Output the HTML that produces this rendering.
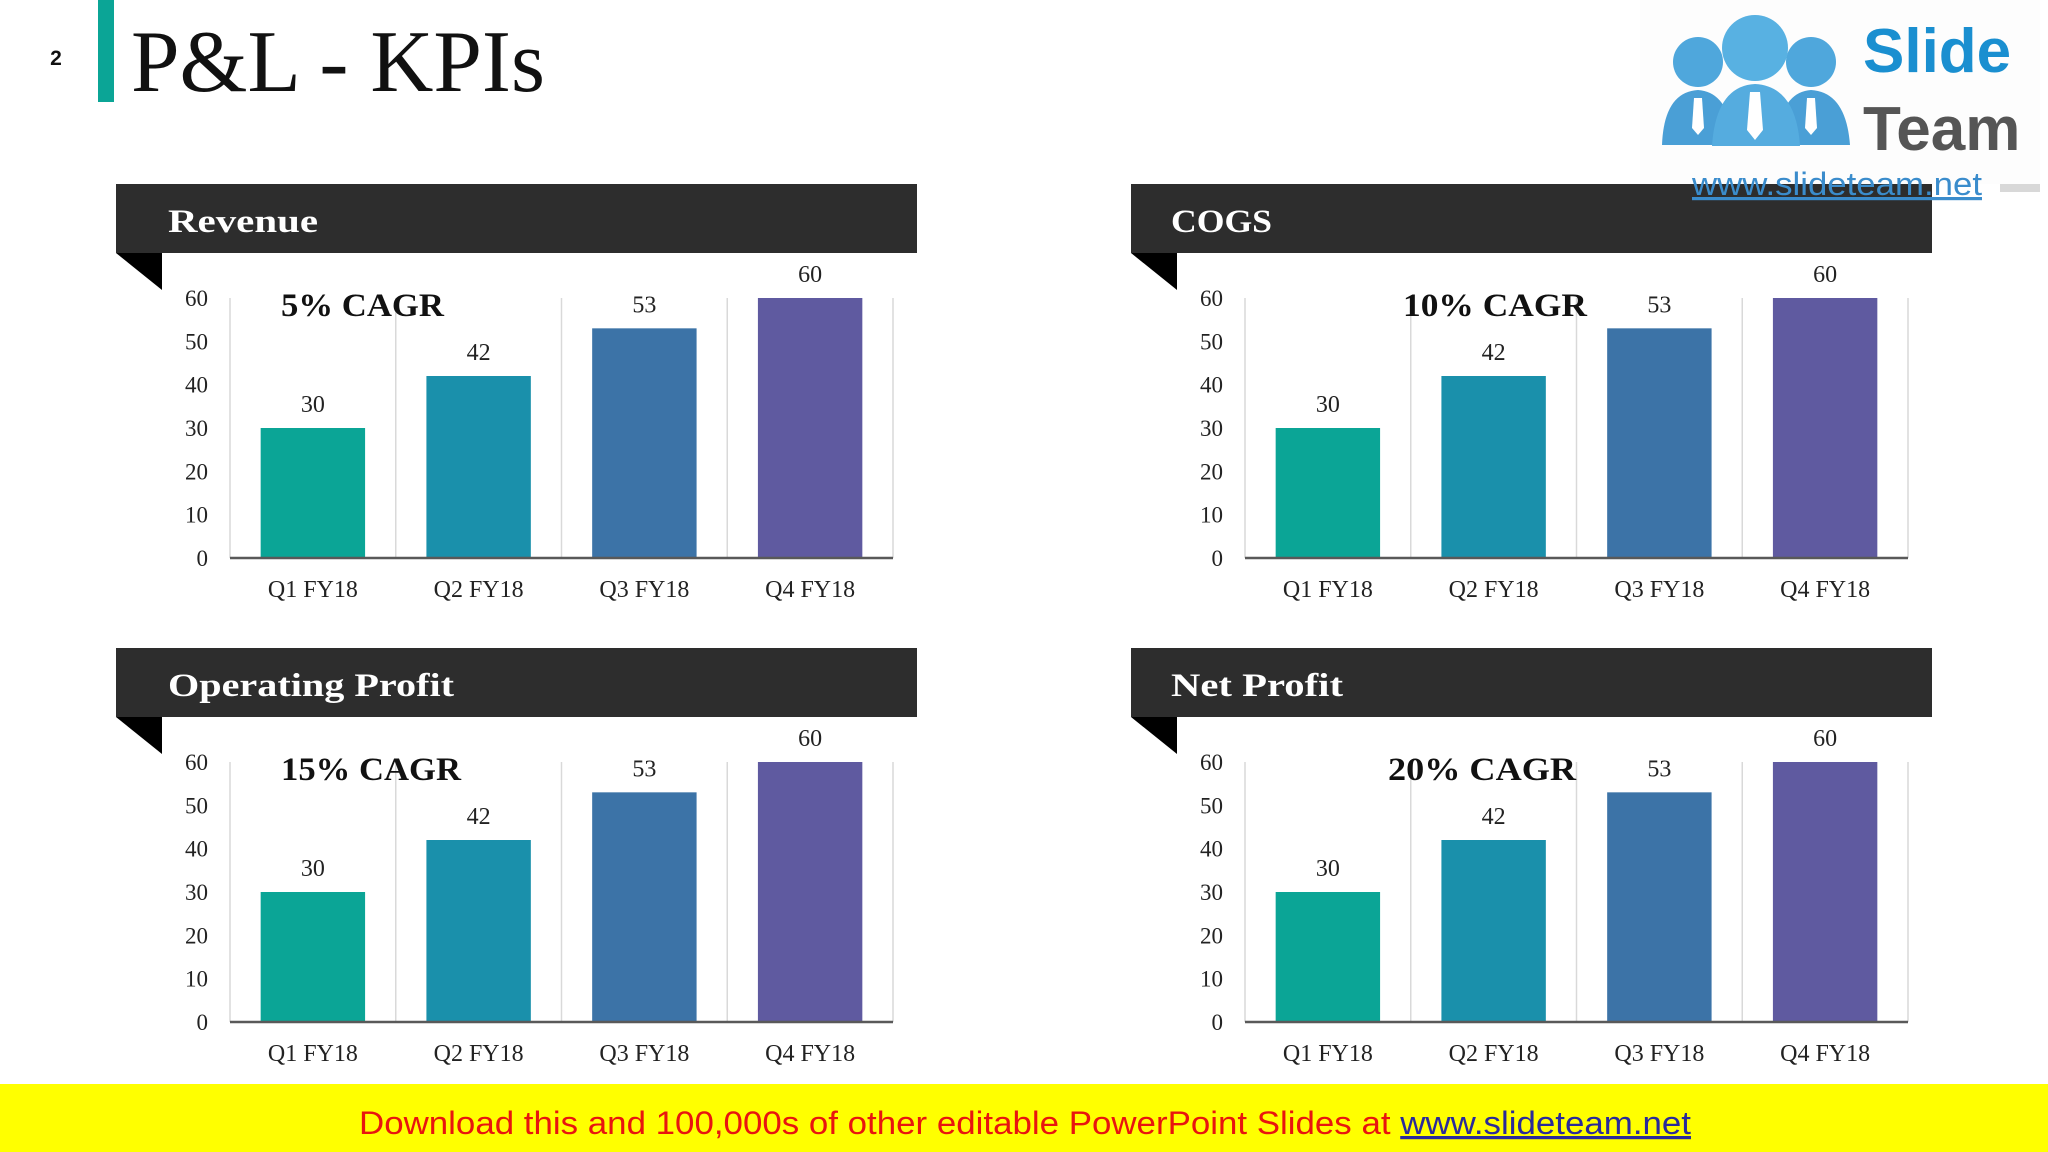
<!DOCTYPE html>
<html>
<head>
<meta charset="utf-8">
<style>
  html,body{margin:0;padding:0;background:#fff;}
  svg{display:block;}
  .serif{font-family:"Liberation Serif","DejaVu Serif",serif;}
  .sans{font-family:"Liberation Sans","DejaVu Sans",sans-serif;}
</style>
</head>
<body>
<svg id="slide" width="2048" height="1152" viewBox="0 0 2048 1152" xmlns="http://www.w3.org/2000/svg">
  <rect x="0" y="0" width="2048" height="1152" fill="#ffffff"/>
  <text x="56" y="65" class="sans" font-size="21" font-weight="bold" text-anchor="middle" fill="#111">2</text>
  <rect x="98" y="0" width="16" height="102" fill="#0ba596"/>
  <text x="131" y="91" class="serif" font-size="88" textLength="414" lengthAdjust="spacingAndGlyphs" fill="#111">P&amp;L - KPIs</text>

  <g id="charts"></g>

  <g id="logo">
    <rect x="1640" y="0" width="400" height="184" fill="#fdfdfd"/>
    <rect x="2000" y="184" width="40" height="8" fill="#d8d8d8"/>
    <circle cx="1698" cy="62" r="25" fill="#4fa7dc"/>
    <circle cx="1811" cy="62" r="25" fill="#4fa7dc"/>
    <circle cx="1755" cy="48" r="33" fill="#58b1e2"/>
    <path d="M1662 145 Q1664 92 1698 90 Q1730 92 1734 145 Z" fill="#4a9fd6"/>
    <path d="M1776 145 Q1780 92 1811 90 Q1846 92 1850 145 Z" fill="#4a9fd6"/>
    <path d="M1712 146 Q1716 86 1755 84 Q1796 86 1800 146 Z" fill="#55acdf"/>
    <path d="M1750 92 L1760 92 L1763 130 L1755 140 L1747 130 Z" fill="#fff"/>
    <path d="M1694 98 L1702 98 L1704 128 L1698 135 L1692 128 Z" fill="#fff"/>
    <path d="M1807 98 L1815 98 L1817 128 L1811 135 L1805 128 Z" fill="#fff"/>
    <text x="1863" y="72" class="sans" font-size="62" font-weight="bold" fill="#1a8fd0">Slide</text>
    <text x="1863" y="150" class="sans" font-size="62" font-weight="bold" fill="#555">Team</text>
    <text x="1692" y="195" class="sans" font-size="32" textLength="290" lengthAdjust="spacingAndGlyphs" fill="#3a8ccc" text-decoration="underline">www.slideteam.net</text>
  </g>

  <rect x="0" y="1084" width="2048" height="68" fill="#ffff00"/>
  <text x="359" y="1134" class="sans" font-size="32" textLength="1332" lengthAdjust="spacingAndGlyphs"><tspan fill="#e8150f">Download this and 100,000s of other editable PowerPoint Slides at </tspan><tspan fill="#2a2a9a" text-decoration="underline">www.slideteam.net</tspan></text>
</svg>

<script>
const categories = ["Q1 FY18", "Q2 FY18", "Q3 FY18", "Q4 FY18"];
const revenueValues = [30, 42, 53, 60];
const cogsValues = [30, 42, 53, 60];
const opProfitValues = [30, 42, 53, 60];
const netProfitValues = [30, 42, 53, 60];
const yTicks = [0, 10, 20, 30, 40, 50, 60];
const panelTitles = ["Revenue", "COGS", "Operating Profit", "Net Profit"];
const cagrLabels = ["5% CAGR", "10% CAGR", "15% CAGR", "20% CAGR"];

const barColors = ["#0ba596", "#1a90ab", "#3c73a7", "#5f5aa0"];
const NS = "http://www.w3.org/2000/svg";
const root = document.getElementById("charts");

function mk(tag, attrs, parent) {
  const e = document.createElementNS(NS, tag);
  for (const k in attrs) e.setAttribute(k, attrs[k]);
  parent.appendChild(e);
  return e;
}

const panels = [
  {ox: 0, oy: 0, values: revenueValues, cagrX: 281, cagrW: 163, titleX: 168, titleW: 150},
  {ox: 1015, oy: 0, values: cogsValues, cagrX: 1403, cagrW: 184, titleX: 1171, titleW: 101},
  {ox: 0, oy: 464, values: opProfitValues, cagrX: 281, cagrW: 180, titleX: 168, titleW: 286},
  {ox: 1015, oy: 464, values: netProfitValues, cagrX: 1388, cagrW: 188, titleX: 1171, titleW: 172}
];

panels.forEach((p, i) => {
  const g = mk("g", {}, root);
  
  
  const ox = p.ox, oy = p.oy;
  const plotL = 230 + ox, plotR = 893 + ox, plotT = 298 + oy, plotB = 558 + oy;
  const yMax = yTicks[yTicks.length - 1];
  const yScale = v => plotB - (v / yMax) * (plotB - plotT);
  const bandW = (plotR - plotL) / categories.length;
  const xBand = k => plotL + k * bandW;

  const hdr = mk("rect", {x: 116 + ox, y: 184 + oy, width: 801, height: 69, fill: "#2d2d2d"}, g);
  
  
  const tri = mk("polygon", {points: `${116+ox},${253+oy} ${162+ox},${253+oy} ${162+ox},${290+oy}`, fill: "#000"}, g);
  
  
  const ht = mk("text", {x: p.titleX, y: 232 + oy, class: "serif", "font-size": 33, "font-weight": "bold", fill: "#fff", textLength: p.titleW, lengthAdjust: "spacingAndGlyphs"}, g);
  ht.textContent = panelTitles[i];
  
  

  for (let k = 1; k <= categories.length; k++) {
    const gl = mk("line", {x1: xBand(k), x2: xBand(k), y1: plotT, y2: plotB, stroke: "#d9d9d9", "stroke-width": 1.5}, g);
    
    
  }
  const ya = mk("line", {x1: plotL, x2: plotL, y1: plotT, y2: plotB, stroke: "#d9d9d9", "stroke-width": 1.5}, g);
  
  

  yTicks.forEach(t => {
    const tl = mk("text", {x: 208 + ox, y: yScale(t) + 8, class: "serif", "font-size": 23, "text-anchor": "end", fill: "#222"}, g);
    tl.textContent = t;
    
    
  });

  p.values.forEach((v, k) => {
    const bw = bandW * 0.63;
    const bx = xBand(k) + (bandW - bw) / 2;
    const b = mk("rect", {x: bx, y: yScale(v), width: bw, height: plotB - yScale(v), fill: barColors[k]}, g);
    
    
    const vl = mk("text", {x: bx + bw / 2, y: yScale(v) - 16, class: "serif", "font-size": 24, "text-anchor": "middle", fill: "#222"}, g);
    vl.textContent = v;
    
    
    const cl = mk("text", {x: xBand(k) + bandW / 2, y: 597 + oy, class: "serif", "font-size": 24, "text-anchor": "middle", fill: "#222"}, g);
    cl.textContent = categories[k];
    
    
  });

  const xa = mk("line", {x1: plotL, x2: plotR, y1: plotB, y2: plotB, stroke: "#595959", "stroke-width": 2.5}, g);
  
  

  const cg = mk("text", {x: p.cagrX, y: 316 + oy, class: "serif", "font-size": 33, "font-weight": "bold", fill: "#111", textLength: p.cagrW, lengthAdjust: "spacingAndGlyphs"}, g);
  cg.textContent = cagrLabels[i];
  
  
});
</script>
</body>
</html>
